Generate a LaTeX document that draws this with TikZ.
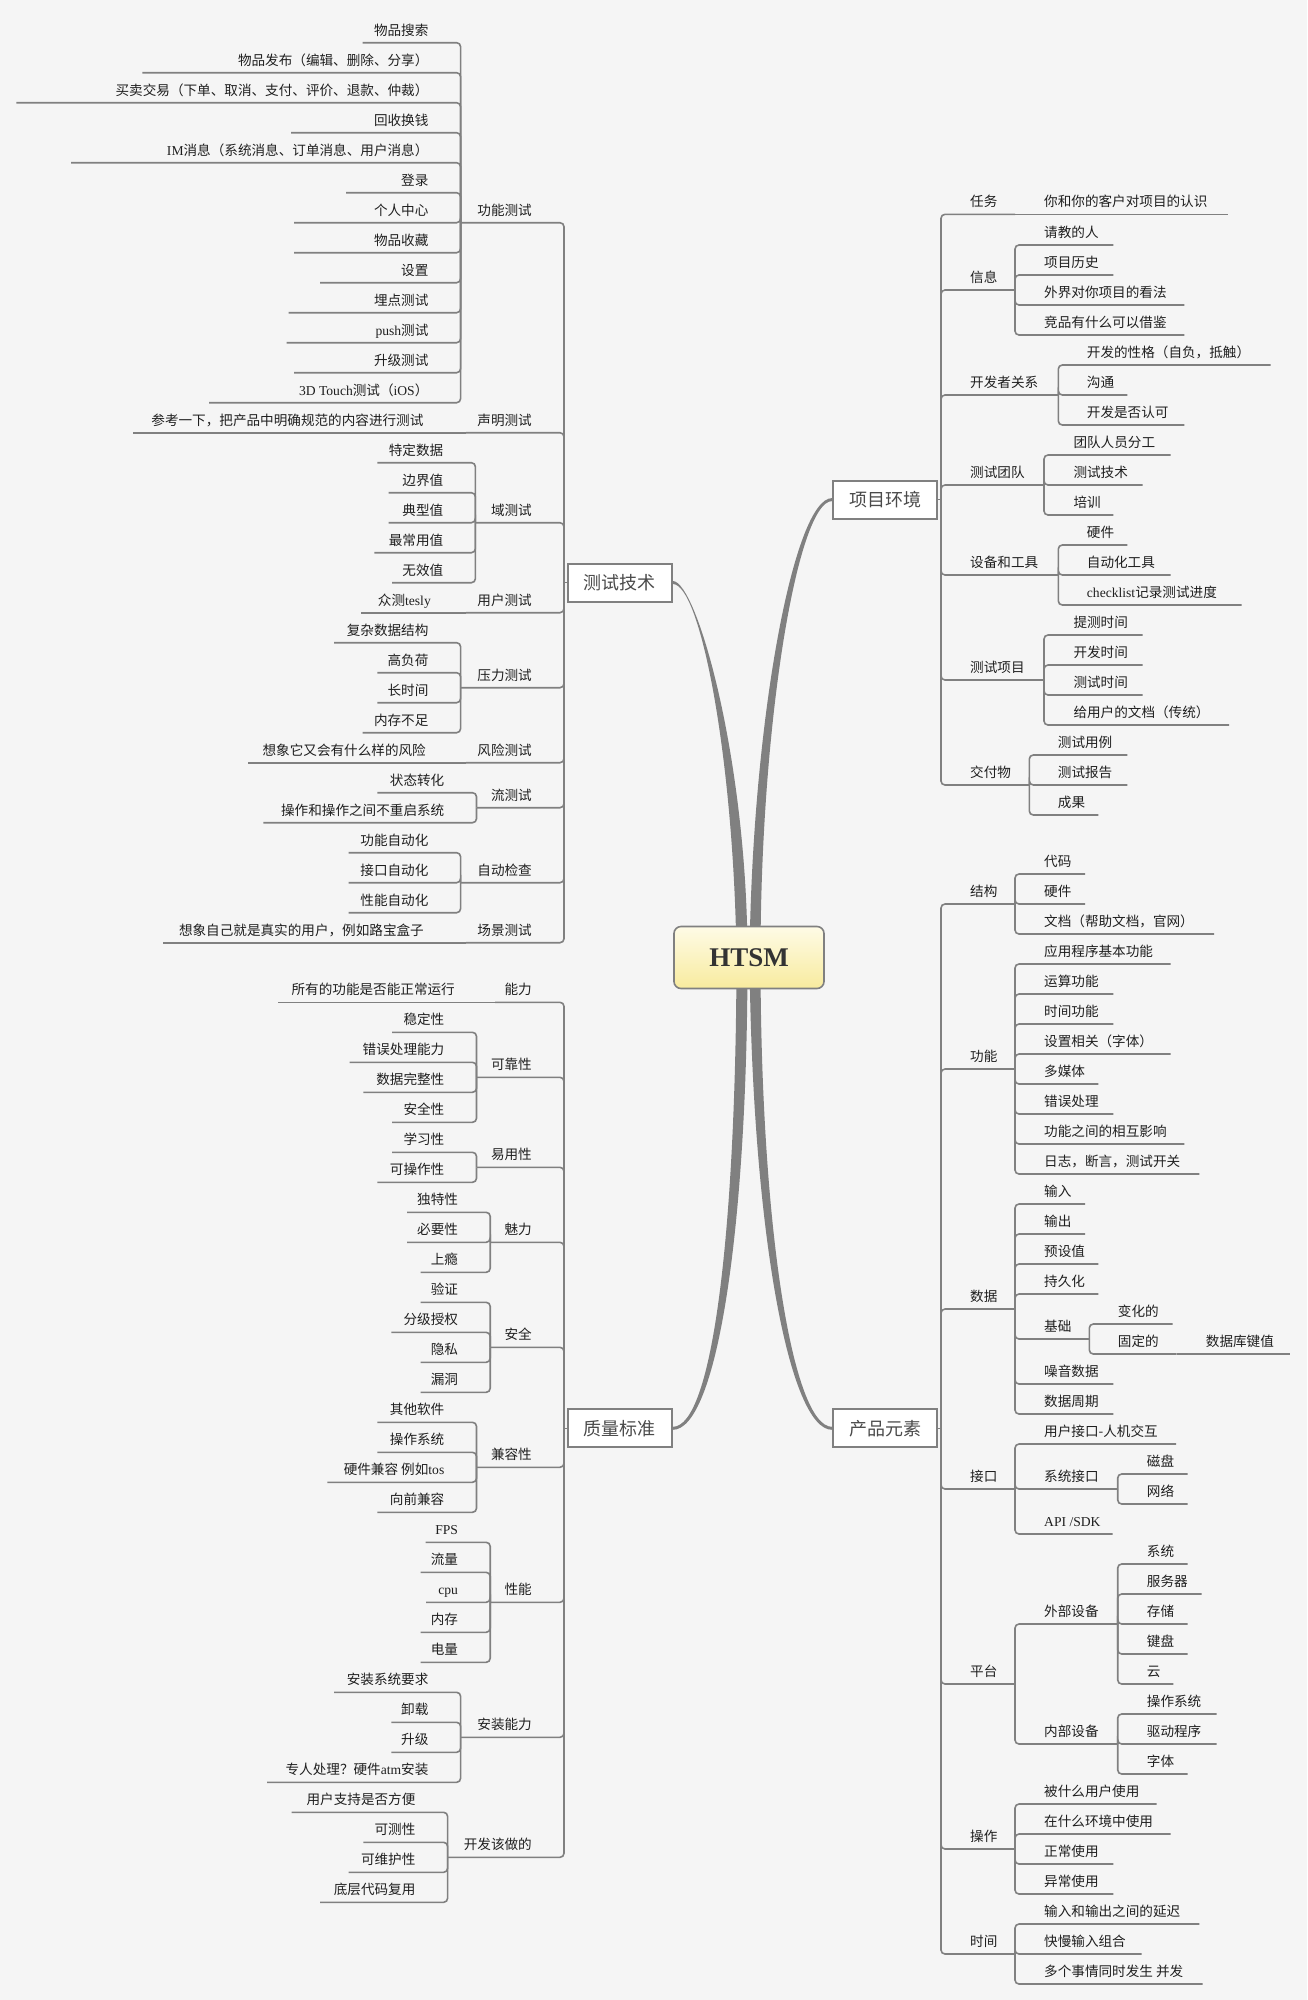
\documentclass[tikz,border=0pt]{standalone}
\usepackage{fontspec}
\usetikzlibrary{calc,backgrounds}
\newfontfamily\cjk{Noto Sans CJK SC}
\newfontfamily\latf{Liberation Serif}
\newcommand{\lat}[1]{{\latf #1}}

\definecolor{bggray}{HTML}{F5F5F5}
\definecolor{linegray}{HTML}{808080}
\definecolor{boxtext}{HTML}{4A4A4A}
\definecolor{rootup}{HTML}{FEFBE6}
\definecolor{rootdown}{HTML}{F8EB9E}

\tikzset{
  conn/.style={draw=linegray, line width=1.6pt, rounded corners=4pt},
  ltxt/.style={anchor=base east, inner sep=0pt, font=\cjk\fontsize{13.6}{16}\selectfont, text=black!88},
  rtxt/.style={anchor=base west, inner sep=0pt, font=\cjk\fontsize{13.6}{16}\selectfont, text=black!88},
  mainbox/.style={draw=linegray, line width=2pt, fill=white, minimum width=104, minimum height=38,
    inner sep=0pt, font=\cjk\fontsize{18}{20}\selectfont, text=boxtext},
  rootbox/.style={draw=linegray, line width=1.6pt, rounded corners=7pt, top color=rootup, bottom color=rootdown,
    minimum width=150, minimum height=62, inner sep=0pt, font=\latf\bfseries\fontsize{27}{30}\selectfont, text=black!80},
  curve/.style={fill=linegray},
}

% 左侧主题：名称, 文字右端, 下划线y, 下划线起点, 文字
\newcommand{\topicL}[5]{%
  \coordinate (#1) at (#4,#3);
  \node[ltxt] (#1t) at (#2,#3-7.5) {#5};}
% 右侧主题：名称, 文字左端, 下划线y, 下划线终点, 文字
\newcommand{\topicR}[5]{%
  \coordinate (#1) at (#4,#3);
  \node[rtxt] (#1t) at (#2,#3-7.5) {#5};}

\begin{document}
\begin{tikzpicture}[x=1pt, y=-1pt]
    \useasboundingbox (0,0) rectangle (1307,2000);

    % 中心主题
    \node[rootbox] (root) at (749,957.5) {HTSM};

    % 四个分支
    \node[mainbox] (tech) at (619.8,582.5) {测试技术};
    \node[mainbox] (qual) at (619.8,1428.3) {质量标准};
    \node[mainbox] (env) at (885,499.6) {项目环境};
    \node[mainbox] (prod) at (885,1428.3) {产品元素};

    % 背景和粗连线
    \begin{pgfonlayer}{background}
    \fill[bggray] (0,0) rectangle (1307,2000);
    \fill[curve] ($(root)+(-12.5,0)$) .. controls ($(root)+(-15,-197)$) and ($(tech.east)+(28,1.5)$) .. ($(tech.east)+(0,1.5)$)
        -- ($(tech.east)+(0,-1.5)$) .. controls ($(tech.east)+(24,-1.5)$) and ($(root)+(-1.5,-197)$) .. ($(root)+(-1.5,0)$) -- cycle;
    \fill[curve] ($(root)+(0.5,0)$) .. controls ($(root)+(3,-237)$) and ($(env.west)+(-38,-1.5)$) .. ($(env.west)+(0,-1.5)$)
        -- ($(env.west)+(0,1.5)$) .. controls ($(env.west)+(-34,1.5)$) and ($(root)+(11.5,-237)$) .. ($(root)+(11.5,0)$) -- cycle;
    \fill[curve] ($(root)+(-12.5,0)$) .. controls ($(root)+(-13,272)$) and ($(qual.east)+(40,-1.5)$) .. ($(qual.east)+(0,-1.5)$)
        -- ($(qual.east)+(0,1.5)$) .. controls ($(qual.east)+(44,1.5)$) and ($(root)+(-1.5,272)$) .. ($(root)+(-1.5,0)$) -- cycle;
    \fill[curve] ($(root)+(0.5,0)$) .. controls ($(root)+(3,272)$) and ($(prod.west)+(-43,1.5)$) .. ($(prod.west)+(0,1.5)$)
        -- ($(prod.west)+(0,-1.5)$) .. controls ($(prod.west)+(-39,-1.5)$) and ($(root)+(11.5,272)$) .. ($(root)+(11.5,0)$) -- cycle;
    \end{pgfonlayer}

    \coordinate (techT) at (564,582.5);
    \coordinate (qualT) at (564,1428.3);
    \coordinate (envT) at (941,499.6);
    \coordinate (prodT) at (941,1428.3);
    \draw[conn] (tech.west) -- (techT);
    \draw[conn] (qual.west) -- (qualT);
    \draw[conn] (env.east) -- (envT);
    \draw[conn] (prod.east) -- (prodT);

    % ===== 测试技术 =====
    % 功能测试
    \topicL{gn}{532}{222.7}{460.6}{功能测试}
    \draw[conn] (techT) |- (gn);
    \foreach \sx/\txt [count=\i] in {362.6/物品搜索, 142.4/物品发布（编辑、删除、分享）,
        16.3/买卖交易（下单、取消、支付、评价、退款、仲裁）, 291/回收换钱,
        71/\lat{IM}消息（系统消息、订单消息、用户消息）, 346/登录, 294/个人中心, 294/物品收藏,
        320/设置, 288.6/埋点测试, 286.7/\lat{push}测试, 294/升级测试, 209/\lat{3D Touch}测试（\lat{iOS}）}{
        \topicL{gn\i}{428.6}{12.7+30*\i}{\sx}{\txt}
        \draw[conn] (gn) |- (gn\i);
    }
    % 声明测试
    \topicL{sm}{532}{432.7}{466}{声明测试}
    \topicL{sm1}{423.6}{432.7}{133}{参考一下，把产品中明确规范的内容进行测试}
    \draw[conn] (techT) |- (sm);
    \draw[conn] (sm) -- (sm1);
    % 域测试
    \topicL{ys}{532}{522.7}{475.4}{域测试}
    \draw[conn] (techT) |- (ys);
    \foreach \sx/\txt [count=\i] in {377.4/特定数据, 388.5/边界值, 388.5/典型值, 374.4/最常用值, 392/无效值}{
        \topicL{ys\i}{443.4}{432.7+30*\i}{\sx}{\txt}
        \draw[conn] (ys) |- (ys\i);
    }
    % 用户测试
    \topicL{yh}{532}{612.7}{466}{用户测试}
    \topicL{yh1}{431}{612.7}{361.4}{众测\lat{tesly}}
    \draw[conn] (techT) |- (yh);
    \draw[conn] (yh) -- (yh1);
    % 压力测试
    \topicL{yl}{532}{687.7}{460.6}{压力测试}
    \draw[conn] (techT) |- (yl);
    \foreach \sx/\txt [count=\i] in {334/复杂数据结构, 377.4/高负荷, 377.4/长时间, 362.6/内存不足}{
        \topicL{yl\i}{428.6}{612.7+30*\i}{\sx}{\txt}
        \draw[conn] (yl) |- (yl\i);
    }
    % 风险测试
    \topicL{fx}{532}{762.7}{466}{风险测试}
    \topicL{fx1}{426}{762.7}{247.9}{想象它又会有什么样的风险}
    \draw[conn] (techT) |- (fx);
    \draw[conn] (fx) -- (fx1);
    % 流测试
    \topicL{lc}{532}{807.7}{476.5}{流测试}
    \draw[conn] (techT) |- (lc);
    \foreach \sx/\txt [count=\i] in {377.4/状态转化, 263.4/操作和操作之间不重启系统}{
        \topicL{lc\i}{444.5}{762.7+30*\i}{\sx}{\txt}
        \draw[conn] (lc) |- (lc\i);
    }
    % 自动检查
    \topicL{zd}{532}{882.7}{460.6}{自动检查}
    \draw[conn] (techT) |- (zd);
    \foreach \sx/\txt [count=\i] in {348.5/功能自动化, 348.5/接口自动化, 348.5/性能自动化}{
        \topicL{zd\i}{428.6}{822.7+30*\i}{\sx}{\txt}
        \draw[conn] (zd) |- (zd\i);
    }
    % 场景测试
    \topicL{cj}{532}{942.7}{466}{场景测试}
    \topicL{cj1}{424}{942.7}{162.8}{想象自己就是真实的用户，例如路宝盒子}
    \draw[conn] (techT) |- (cj);
    \draw[conn] (cj) -- (cj1);

    % ===== 质量标准 =====
    % 能力
    \topicL{nl}{532}{1002.3}{495}{能力}
    \topicL{nl1}{455}{1002.3}{277.5}{所有的功能是否能正常运行}
    \draw[conn] (qualT) |- (nl);
    \draw[conn] (nl) -- (nl1);
    % 可靠性
    \topicL{kk}{532}{1077.3}{476.5}{可靠性}
    \draw[conn] (qualT) |- (kk);
    \foreach \sx/\txt [count=\i] in {392/稳定性, 349.6/错误处理能力, 363.3/数据完整性, 392/安全性}{
        \topicL{kk\i}{444.5}{1002.3+30*\i}{\sx}{\txt}
        \draw[conn] (kk) |- (kk\i);
    }
    % 易用性
    \topicL{yy}{532}{1167.3}{476.5}{易用性}
    \draw[conn] (qualT) |- (yy);
    \foreach \sx/\txt [count=\i] in {392/学习性, 377.4/可操作性}{
        \topicL{yy\i}{444.5}{1122.3+30*\i}{\sx}{\txt}
        \draw[conn] (yy) |- (yy\i);
    }
    % 魅力
    \topicL{ml}{532}{1242.3}{490.2}{魅力}
    \draw[conn] (qualT) |- (ml);
    \foreach \sx/\txt [count=\i] in {407/独特性, 407/必要性, 420.6/上瘾}{
        \topicL{ml\i}{458.2}{1182.3+30*\i}{\sx}{\txt}
        \draw[conn] (ml) |- (ml\i);
    }
    % 安全
    \topicL{aq}{532}{1347.3}{490.2}{安全}
    \draw[conn] (qualT) |- (aq);
    \foreach \sx/\txt [count=\i] in {420.6/验证, 391.4/分级授权, 420.6/隐私, 420.6/漏洞}{
        \topicL{aq\i}{458.2}{1272.3+30*\i}{\sx}{\txt}
        \draw[conn] (aq) |- (aq\i);
    }
    % 兼容性
    \topicL{jr}{532}{1467.3}{476.5}{兼容性}
    \draw[conn] (qualT) |- (jr);
    \foreach \sx/\txt [count=\i] in {377.4/其他软件, 377.4/操作系统, 327.4/硬件兼容 例如\lat{tos}, 377.4/向前兼容}{
        \topicL{jr\i}{444.5}{1392.3+30*\i}{\sx}{\txt}
        \draw[conn] (jr) |- (jr\i);
    }
    % 性能
    \topicL{xn}{532}{1602.3}{490.2}{性能}
    \draw[conn] (qualT) |- (xn);
    \foreach \sx/\txt [count=\i] in {425.5/\lat{FPS}, 420.6/流量, 426.2/\lat{cpu}, 420.6/内存, 420.6/电量}{
        \topicL{xn\i}{458.2}{1512.3+30*\i}{\sx}{\txt}
        \draw[conn] (xn) |- (xn\i);
    }
    % 安装能力
    \topicL{az}{532}{1737.3}{460.6}{安装能力}
    \draw[conn] (qualT) |- (az);
    \foreach \sx/\txt [count=\i] in {334/安装系统要求, 391.4/卸载, 391.4/升级, 267/专人处理？硬件\lat{atm}安装}{
        \topicL{az\i}{428.6}{1662.3+30*\i}{\sx}{\txt}
        \draw[conn] (az) |- (az\i);
    }
    % 开发该做的
    \topicL{kf}{532}{1857.3}{447.6}{开发该做的}
    \draw[conn] (qualT) |- (kf);
    \foreach \sx/\txt [count=\i] in {291.5/用户支持是否方便, 363.3/可测性, 348.5/可维护性, 320/底层代码复用}{
        \topicL{kf\i}{415.6}{1782.3+30*\i}{\sx}{\txt}
        \draw[conn] (kf) |- (kf\i);
    }

    % ===== 项目环境 =====
    % 任务
    \topicR{rw}{970}{214.3}{1015}{任务}
    \topicR{rw1}{1044}{214.3}{1227.7}{你和你的客户对项目的认识}
    \draw[conn] (envT) |- (rw);
    \draw[conn] (rw) -- (rw1);
    % 信息
    \topicR{xx}{970}{290}{1015}{信息}
    \draw[conn] (envT) |- (xx);
    \foreach \ex/\txt [count=\i] in {1113.3/请教的人, 1113.3/项目历史, 1184.3/外界对你项目的看法, 1184.3/竞品有什么可以借鉴}{
        \topicR{xx\i}{1044}{215+30*\i}{\ex}{\txt}
        \draw[conn] (xx) |- (xx\i);
    }
    % 开发者关系
    \topicR{kg}{970}{395}{1058.3}{开发者关系}
    \draw[conn] (envT) |- (kg);
    \foreach \ex/\txt [count=\i] in {1270.7/开发的性格（自负，抵触）, 1127.3/沟通, 1184.3/开发是否认可}{
        \topicR{kg\i}{1086.7}{335+30*\i}{\ex}{\txt}
        \draw[conn] (kg) |- (kg\i);
    }
    % 测试团队
    \topicR{td}{970}{485}{1044}{测试团队}
    \draw[conn] (envT) |- (td);
    \foreach \ex/\txt [count=\i] in {1170.7/团队人员分工, 1142.7/测试技术, 1113.3/培训}{
        \topicR{td\i}{1073.3}{425+30*\i}{\ex}{\txt}
        \draw[conn] (td) |- (td\i);
    }
    % 设备和工具
    \topicR{sb}{970}{575}{1058.3}{设备和工具}
    \draw[conn] (envT) |- (sb);
    \foreach \ex/\txt [count=\i] in {1127.3/硬件, 1170.7/自动化工具, 1241.7/\lat{checklist}记录测试进度}{
        \topicR{sb\i}{1086.7}{515+30*\i}{\ex}{\txt}
        \draw[conn] (sb) |- (sb\i);
    }
    % 测试项目
    \topicR{xm}{970}{680}{1044}{测试项目}
    \draw[conn] (envT) |- (xm);
    \foreach \ex/\txt [count=\i] in {1142.7/提测时间, 1142.7/开发时间, 1142.7/测试时间, 1229/给用户的文档（传统）}{
        \topicR{xm\i}{1073.3}{605+30*\i}{\ex}{\txt}
        \draw[conn] (xm) |- (xm\i);
    }
    % 交付物
    \topicR{jf}{970}{785}{1029.3}{交付物}
    \draw[conn] (envT) |- (jf);
    \foreach \ex/\txt [count=\i] in {1127.3/测试用例, 1127.3/测试报告, 1098.3/成果}{
        \topicR{jf\i}{1057.7}{725+30*\i}{\ex}{\txt}
        \draw[conn] (jf) |- (jf\i);
    }

    % ===== 产品元素 =====
    % 结构
    \topicR{jg}{970}{904}{1015}{结构}
    \draw[conn] (prodT) |- (jg);
    \foreach \ex/\txt [count=\i] in {1085/代码, 1085/硬件, 1214/文档（帮助文档，官网）}{
        \topicR{jg\i}{1044}{844+30*\i}{\ex}{\txt}
        \draw[conn] (jg) |- (jg\i);
    }
    % 功能
    \topicR{gx}{970}{1069}{1015}{功能}
    \draw[conn] (prodT) |- (gx);
    \foreach \ex/\txt [count=\i] in {1170.7/应用程序基本功能, 1113.3/运算功能, 1113.3/时间功能, 1170.7/设置相关（字体）,
        1098.3/多媒体, 1113.3/错误处理, 1184.3/功能之间的相互影响, 1199.3/日志，断言，测试开关}{
        \topicR{gx\i}{1044}{934+30*\i}{\ex}{\txt}
        \draw[conn] (gx) |- (gx\i);
    }
    % 数据
    \topicR{sj}{970}{1309}{1015}{数据}
    \draw[conn] (prodT) |- (sj);
    \foreach \yy/\ex/\txt [count=\i] in {1204/1085/输入, 1234/1085/输出, 1264/1098.3/预设值, 1294/1098.3/持久化,
        1384/1113.3/噪音数据, 1414/1113.3/数据周期}{
        \topicR{sj\i}{1044}{\yy}{\ex}{\txt}
        \draw[conn] (sj) |- (sj\i);
    }
    \topicR{jc}{1044}{1339}{1089.3}{基础}
    \draw[conn] (sj) |- (jc);
    \topicR{jc1}{1117.7}{1324}{1172.7}{变化的}
    \topicR{jc2}{1117.7}{1354}{1176.7}{固定的}
    \topicR{jc21}{1205.7}{1354}{1290}{数据库键值}
    \draw[conn] (jc) |- (jc1);
    \draw[conn] (jc) |- (jc2);
    \draw[conn] (jc2) -- (jc21);
    % 接口
    \topicR{jk}{970}{1489}{1015}{接口}
    \draw[conn] (prodT) |- (jk);
    \topicR{jk1}{1044}{1444}{1176}{用户接口-人机交互}
    \topicR{jk2}{1044}{1489}{1117.7}{系统接口}
    \topicR{jk3}{1044}{1534}{1112.7}{\lat{API /SDK}}
    \foreach \j in {1,2,3}{\draw[conn] (jk) |- (jk\j);}
    \topicR{jk21}{1146.7}{1474}{1187.7}{磁盘}
    \topicR{jk22}{1146.7}{1504}{1187.7}{网络}
    \draw[conn] (jk2) |- (jk21);
    \draw[conn] (jk2) |- (jk22);
    % 平台
    \topicR{pt}{970}{1684}{1015}{平台}
    \draw[conn] (prodT) |- (pt);
    \topicR{wb}{1044}{1624}{1117.7}{外部设备}
    \topicR{nb}{1044}{1744}{1117.7}{内部设备}
    \draw[conn] (pt) |- (wb);
    \draw[conn] (pt) |- (nb);
    \foreach \ex/\txt [count=\i] in {1187.7/系统, 1201.7/服务器, 1187.7/存储, 1187.7/键盘, 1173.3/云}{
        \topicR{wb\i}{1146.7}{1534+30*\i}{\ex}{\txt}
        \draw[conn] (wb) |- (wb\i);
    }
    \foreach \ex/\txt [count=\i] in {1216.7/操作系统, 1216.7/驱动程序, 1187.7/字体}{
        \topicR{nb\i}{1146.7}{1684+30*\i}{\ex}{\txt}
        \draw[conn] (nb) |- (nb\i);
    }
    % 操作
    \topicR{cz}{970}{1849}{1015}{操作}
    \draw[conn] (prodT) |- (cz);
    \foreach \ex/\txt [count=\i] in {1156.7/被什么用户使用, 1170.7/在什么环境中使用, 1113.3/正常使用, 1113.3/异常使用}{
        \topicR{cz\i}{1044}{1774+30*\i}{\ex}{\txt}
        \draw[conn] (cz) |- (cz\i);
    }
    % 时间
    \topicR{sjn}{970}{1954}{1015}{时间}
    \draw[conn] (prodT) |- (sjn);
    \foreach \ex/\txt [count=\i] in {1199.3/输入和输出之间的延迟, 1141.7/快慢输入组合, 1202.7/多个事情同时发生 并发}{
        \topicR{sjn\i}{1044}{1894+30*\i}{\ex}{\txt}
        \draw[conn] (sjn) |- (sjn\i);
    }
\end{tikzpicture}
\end{document}
